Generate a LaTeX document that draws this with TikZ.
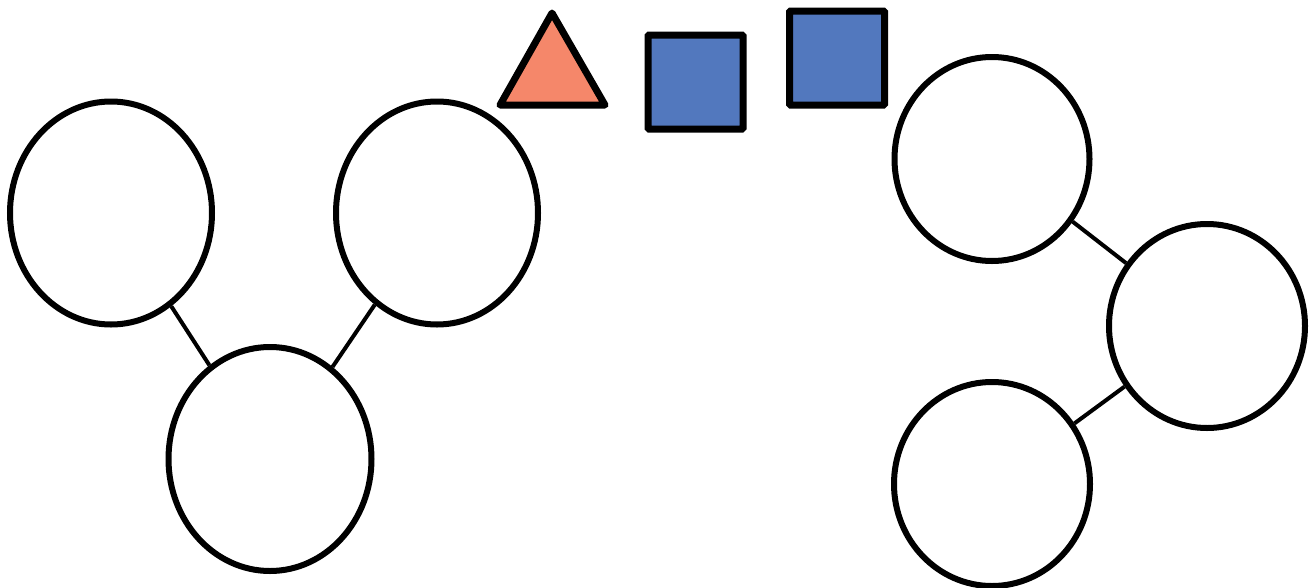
\documentclass[tikz,border=0pt]{standalone}
\usetikzlibrary{shapes.geometric}
\definecolor{salmon}{RGB}{245,135,106}
\definecolor{sqblue}{RGB}{82,120,190}
\tikzset{
  blob/.style={ellipse, draw=black, line width=6pt, fill=white, inner sep=0pt},
  link/.style={draw=black, line width=4pt},
  bluebox/.style={rectangle, draw=black, line width=7pt, fill=sqblue, inner sep=0pt, minimum width=95pt, minimum height=94pt, rounded corners=1pt},
}
\begin{document}
\begin{tikzpicture}[x=1pt,y=-1pt]
\useasboundingbox (0,0) rectangle (1315,587);
\node[blob, minimum width=202pt, minimum height=223pt] (e1) at (111,213) {};
\node[blob, minimum width=202pt, minimum height=223pt] (e2) at (437,213) {};
\node[blob, minimum width=203pt, minimum height=224pt] (e3) at (270,459) {};
\node[blob, minimum width=195pt, minimum height=204pt] (e4) at (992,159) {};
\node[blob, minimum width=196pt, minimum height=204pt] (e5) at (1207,326) {};
\node[blob, minimum width=196pt, minimum height=204pt] (e6) at (992,484) {};
\draw[link] (e1) -- (e3);
\draw[link] (e2) -- (e3);
\draw[link] (e4) -- (e5);
\draw[link] (e6) -- (e5);
\draw[line width=7pt, line join=round, fill=salmon] (500,105) -- (552,13) -- (605,105) -- cycle;
\node[bluebox] (s1) at (695.5,82) {};
\node[bluebox] (s2) at (837,58) {};
\end{tikzpicture}
\end{document}
